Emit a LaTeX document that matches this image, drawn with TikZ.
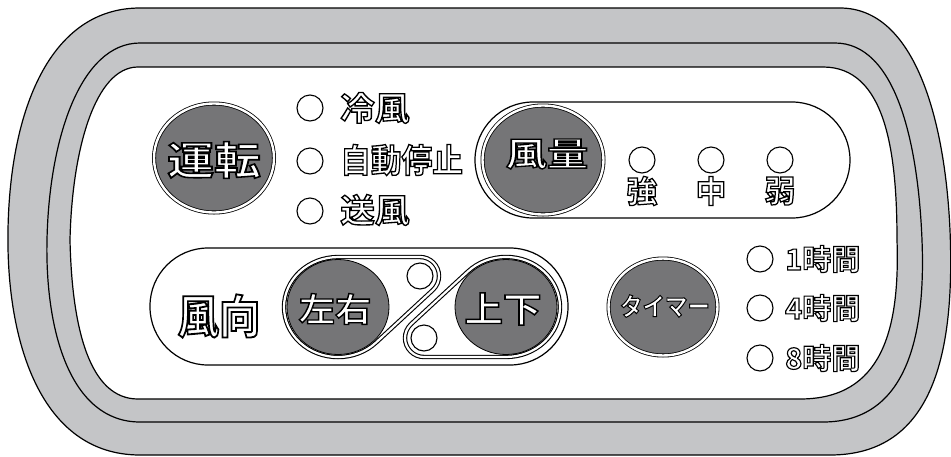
\documentclass[tikz,border=0pt]{standalone}
\usepackage{fontspec}
\usetikzlibrary{shapes.geometric}
\newfontfamily\jpfont{Noto Sans CJK JP Bold}[FakeBold=4]
\definecolor{bezelgray}{RGB}{196,197,199}
\definecolor{knobgray}{RGB}{117,117,119}
% white text with black outline: [xscale]{size}{text}
\newcommand{\jlabel}[3][1]{\scalebox{#1}[1]{\special{pdf:bcolor [1] [0]}\jpfont\fontsize{#2}{#2}\selectfont #3\special{pdf:ecolor}}}
\tikzset{
  panel/.style={draw=black,line width=1.2pt},
  led/.style={circle,draw=black,fill=white,line width=1.1pt,minimum size=26pt,inner sep=0pt},
  knob/.style={ellipse,fill=knobgray,draw=black,line width=0.8pt,double=white,double distance=2.4pt,inner sep=0pt},
  track/.style={draw=black,fill=white,line width=1.1pt,double=white,double distance=2.2pt},
  lbl/.style={inner sep=0pt},
}
\begin{document}
\begin{tikzpicture}[x=1pt,y=-1pt]
  \useasboundingbox (0,0) rectangle (951,456);
  % the bezel
  \draw[panel,fill=bezelgray] (140,8) -- (840,8) .. controls (915,8) and (945,120) .. (950,230)
    .. controls (955,350) and (935,455) .. (830,455) -- (140,455)
    .. controls (40,455) and (6,340) .. (8,230) .. controls (10,110) and (50,8) .. (140,8) -- cycle;
  \draw[panel] (140,43) -- (835,43) .. controls (895,43) and (918,140) .. (922,240)
    .. controls (926,340) and (905,422) .. (823,422) -- (140,422)
    .. controls (70,422) and (45,330) .. (47,240) .. controls (49,140) and (80,43) .. (140,43) -- cycle;
  \draw[panel,fill=white] (138,67) -- (823,67) .. controls (885,67) and (897,150) .. (897,240)
    .. controls (900,330) and (882,399) .. (800,399) -- (138,399)
    .. controls (90,399) and (72,330) .. (70,240) .. controls (72,150) and (95,67) .. (138,67) -- cycle;

  % frames of the two groups
  \draw[panel,rounded corners=58pt] (475,102) rectangle (850,218);
  \draw[panel,rounded corners=58pt] (150,248) rectangle (568,365);

  % tracks round the direction keys
  \draw[track] (338,257) -- (420,257) arc[start angle=-90,end angle=47.2,radius=19]
    -- (376.2,342.4) arc[start angle=45,end angle=270,x radius=54,y radius=50] -- cycle;
  \draw[track] (506,357) -- (424,357) arc[start angle=90,end angle=227.2,radius=19]
    -- (467.8,271.6) arc[start angle=225,end angle=450,x radius=54,y radius=50] -- cycle;

  % keys
  \node[knob,minimum width=120pt,minimum height=109pt] (unten) at (214,158) {};
  \node[knob,minimum width=121pt,minimum height=109pt] (furyo) at (543,160) {};
  \node[knob,minimum width=109pt,minimum height=97pt] (timer) at (663,307) {};
  \node[ellipse,fill=knobgray,draw=black,line width=0.8pt,minimum width=102pt,minimum height=95pt] (sayu) at (338,307) {};
  \node[ellipse,fill=knobgray,draw=black,line width=0.8pt,minimum width=102pt,minimum height=95pt] (joge) at (506,307) {};

  \node[lbl] (untentxt) at (214,160) {\jlabel[1.2]{39}{運転}};
  \node[lbl] (furyotxt) at (547,154) {\jlabel[1.25]{33}{風量}};
  \node[lbl] (timertxt) at (665,306) {\jlabel[0.9]{25}{タイマー}};
  \node[lbl] (sayutxt) at (335,309) {\jlabel[1.1]{33}{左右}};
  \node[lbl] (jogetxt) at (503,309) {\jlabel[1.1]{35}{上下}};
  \node[lbl] (fukotxt) at (219,316) {\jlabel[0.9]{46}{風向}};

  % lamps
  \node[led] (ledcool) at (310,108) {};
  \node[led] (ledauto) at (310,161) {};
  \node[led] (ledfan) at (310,211) {};
  \node[lbl,anchor=west] (cool) at (340,108) {\jlabel[1.05]{33}{冷風}};
  \node[lbl,anchor=west] (auto) at (340,160) {\jlabel[0.93]{33}{自動停止}};
  \node[lbl,anchor=west] (fan) at (340,210) {\jlabel[1.05]{33}{送風}};

  \node[led] (ledup) at (420,276) {};
  \node[led] (leddown) at (424,338) {};

  \foreach \x/\t/\n in {642/強/strong,711/中/mid,780/弱/weak}{
    \node[led] (led\n) at (\x,160) {};
    \node[lbl] (speed\n) at (\x,191) {\jlabel{31}{\t}};
  }
  \foreach \y/\h/\n in {259/1/one,308/4/four,358/8/eight}{
    \node[led] (led\n) at (760,\y) {};
    \node[lbl,anchor=west] (hour\n) at (785,\y) {\jlabel{29}{\h 時間}};
  }
\end{tikzpicture}
\end{document}
